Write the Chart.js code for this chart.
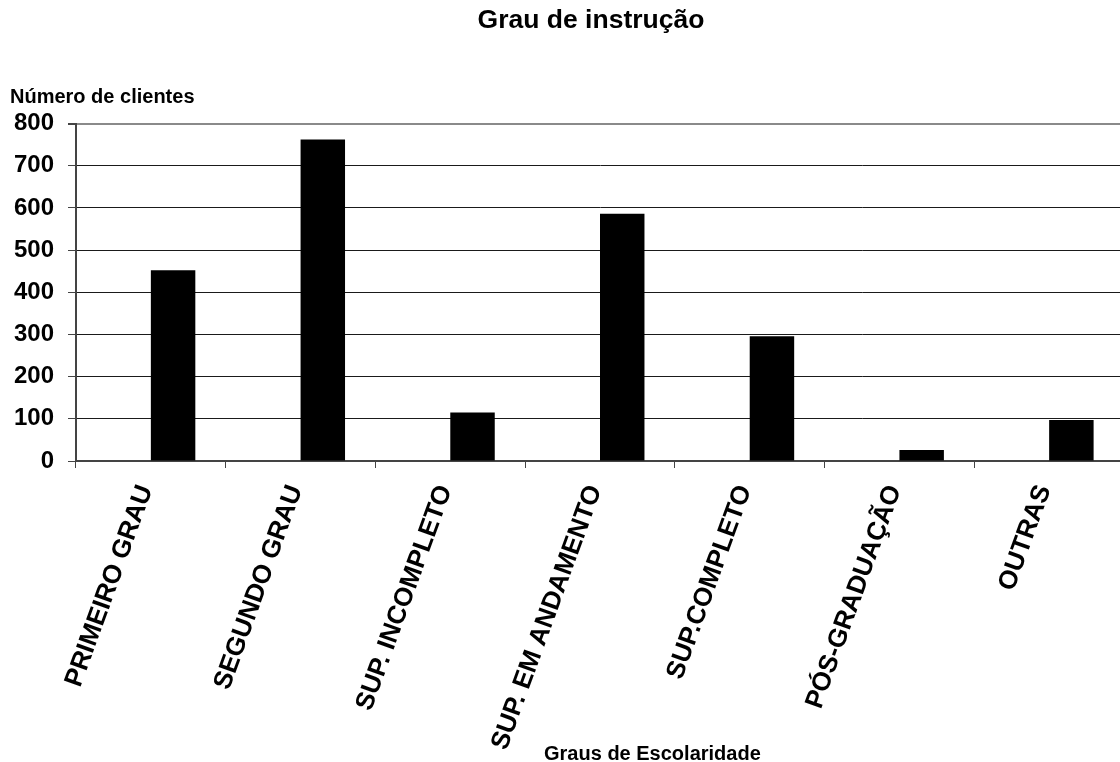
<!DOCTYPE html>
<html lang="pt">
<head>
<meta charset="utf-8">
<title>Grau de instrução</title>
<script src="https://cdn.jsdelivr.net/npm/chart.js@4.4.1/dist/chart.umd.min.js"></script>
<style>
  html, body { margin: 0; padding: 0; background: #fff; overflow: hidden; }
  #wrap { width: 1120px; height: 762px; overflow: hidden; }
  canvas { display: block; }
</style>
</head>
<body>
<div id="wrap"><canvas id="grafico" width="1130" height="762"></canvas></div>
<script>
// Categorias (graus de escolaridade)
const categorias = [
  'PRIMEIRO GRAU',
  'SEGUNDO GRAU',
  'SUP. INCOMPLETO',
  'SUP. EM ANDAMENTO',
  'SUP.COMPLETO',
  'PÓS-GRADUAÇÃO',
  'OUTRAS'
];
// Número de clientes por grau
const clientes = [452, 762, 115, 586, 296, 26, 97];
// Segunda série da planilha, sem valores (ocupa o primeiro espaço de cada grupo)
const serieVazia = [null, null, null, null, null, null, null];
// Marcas do eixo vertical
const marcasY = [0, 100, 200, 300, 400, 500, 600, 700, 800];

const tituloGrafico = 'Grau de instrução';
const tituloEixoY = 'Número de clientes';
const tituloEixoX = 'Graus de Escolaridade';

const FONTE = "'Liberation Sans', Arial, Helvetica, sans-serif";

// Título do gráfico e títulos dos eixos, posicionados como na planilha original
const titulos = {
  id: 'titulos',
  afterDraw(chart) {
    const { ctx, chartArea } = chart;
    const largura = chartArea.right - chartArea.left;
    ctx.save();
    ctx.fillStyle = '#000';
    ctx.textBaseline = 'middle';

    ctx.font = 'bold 26.5px ' + FONTE;
    ctx.textAlign = 'center';
    ctx.fillText(tituloGrafico, chartArea.left + largura * 0.4914, 21);

    ctx.font = 'bold 20px ' + FONTE;
    ctx.textAlign = 'left';
    ctx.fillText(tituloEixoY, 10, chartArea.top - 26);

    ctx.textAlign = 'center';
    ctx.fillText(tituloEixoX, chartArea.left + largura * 0.55, 754);
    ctx.restore();
  }
};

new Chart(document.getElementById('grafico'), {
  type: 'bar',
  data: {
    labels: categorias,
    datasets: [
      {
        label: 'Série 1',
        data: serieVazia,
        backgroundColor: '#000'
      },
      {
        label: tituloEixoY,
        data: clientes,
        backgroundColor: '#000',
        borderWidth: 0
      }
    ]
  },
  options: {
    responsive: false,
    animation: false,
    devicePixelRatio: 1,
    categoryPercentage: 0.594,
    barPercentage: 1.0,
    layout: { padding: { left: 0, right: 6, top: 123.5, bottom: 0 } },
    plugins: {
      legend: { display: false },
      tooltip: { enabled: false },
      title: { display: false }
    },
    scales: {
      x: {
        grid: {
          display: true,
          offset: true,
          drawOnChartArea: false,
          drawTicks: true,
          tickLength: 7,
          tickColor: '#444',
          tickWidth: 1
        },
        border: { display: true, color: '#444', width: 2 },
        ticks: {
          autoSkip: false,
          minRotation: 70,
          maxRotation: 70,
          padding: 13,
          labelOffset: -5,
          color: '#000',
          font: { family: FONTE, size: 26, weight: 'bold' }
        },
        afterFit(scale) { scale.height = 301; }
      },
      y: {
        min: 0,
        max: 800,
        afterBuildTicks(scale) {
          scale.ticks = marcasY.map(v => ({ value: v }));
        },
        grid: {
          color: (c) => (c.tick && c.tick.value === 800 ? '#8a8a8a' : '#1a1a1a'),
          lineWidth: (c) => (c.tick && c.tick.value === 800 ? 2 : 1),
          drawTicks: true,
          tickLength: 8,
          tickColor: '#444'
        },
        border: { display: true, color: '#444', width: 2 },
        ticks: {
          padding: 14,
          color: '#000',
          font: { family: FONTE, size: 24, weight: 'bold' }
        },
        afterFit(scale) { scale.width = 76; }
      }
    }
  },
  plugins: [titulos]
});
</script>
</body>
</html>
